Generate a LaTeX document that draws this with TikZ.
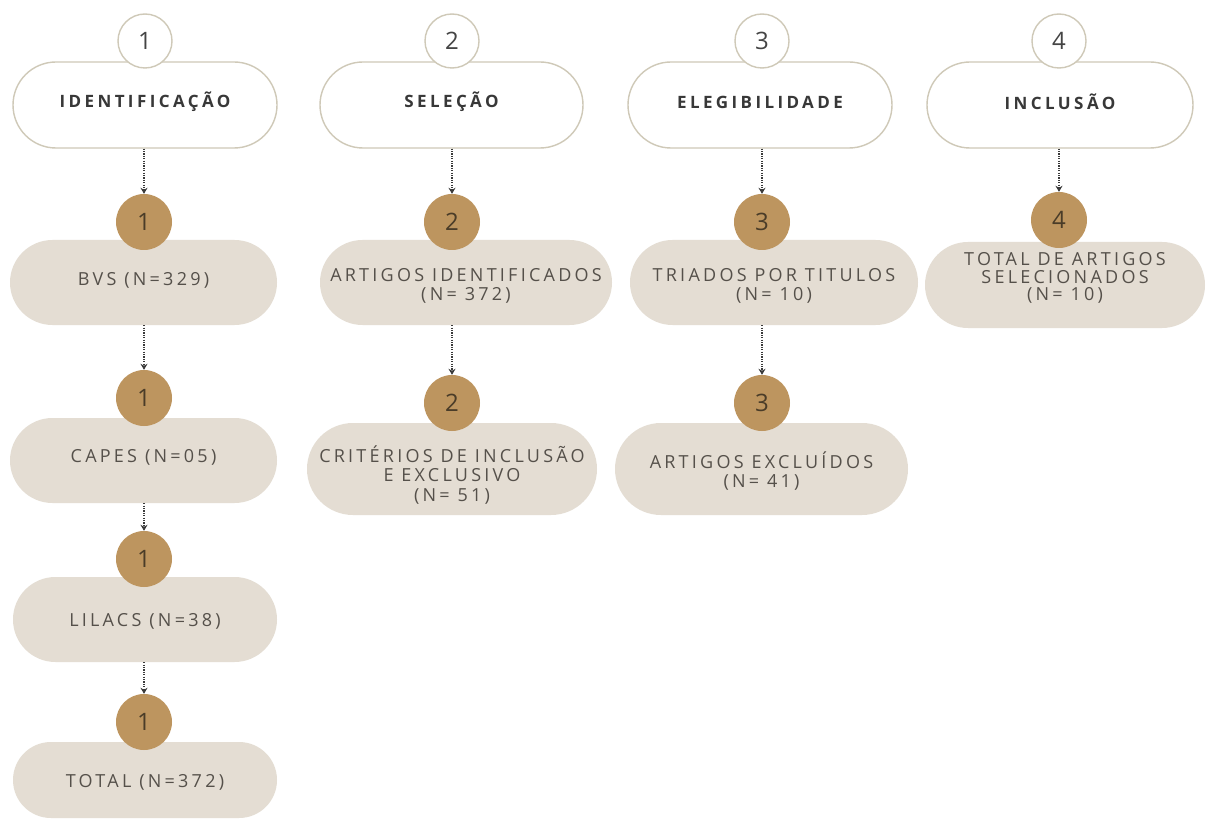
\documentclass[tikz,border=0pt]{standalone}
\usepackage{fontspec}
\usetikzlibrary{shapes.misc,arrows.meta}
\newfontfamily\hdfont[LetterSpace=20]{Open Sans}
\newfontfamily\ctfont[LetterSpace=18]{Open Sans}
\newfontfamily\numfont{Open Sans}
\definecolor{hline}{HTML}{CFC9B8}
\definecolor{pillfill}{HTML}{E4DDD3}
\definecolor{browncirc}{HTML}{BD955F}
\definecolor{browntext}{HTML}{4A3C28}
\definecolor{htextc}{HTML}{383838}
\definecolor{ctextc}{HTML}{55504A}
\definecolor{numdark}{HTML}{444444}
\definecolor{arrc}{HTML}{3A3A3A}
\begin{document}
\begin{tikzpicture}[x=1pt,y=-1pt,
  hpill/.style={rounded rectangle, draw=hline, line width=1.4pt, fill=white, inner sep=0pt},
  hcirc/.style={circle, draw=hline, line width=1.4pt, fill=white, minimum size=54pt, inner sep=0pt,
    font=\numfont\fontsize{24}{24}\selectfont, text=numdark},
  cpill/.style={rounded rectangle, fill=pillfill, inner sep=0pt},
  bcirc/.style={circle, fill=browncirc, minimum size=56pt, inner sep=0pt,
    font=\numfont\fontsize{24}{24}\selectfont, text=browntext},
  htext/.style={font=\hdfont\bfseries\fontsize{17}{20}\selectfont, text=htextc},
  ctext/.style={font=\ctfont\fontsize{18}{19.5}\selectfont, text=ctextc, align=center},
  arr/.style={draw=arrc, line width=1.1pt, dash pattern=on 1.2pt off 1.2pt,
    -{Stealth[length=6pt,width=7pt]}}
]
\useasboundingbox[fill=white] (0,0) rectangle (1219,821);

% header pills
\node[hpill, minimum width=264pt, minimum height=86pt] (h1) at (145,105) {};
\node[hpill, minimum width=263pt, minimum height=86pt] (h2) at (451.5,105) {};
\node[hpill, minimum width=264pt, minimum height=86pt] (h3) at (760,105) {};
\node[hpill, minimum width=266pt, minimum height=86pt] (h4) at (1060,105) {};
\node[htext] (ht1) at (145,102) {IDENTIFICAÇÃO};
\node[htext] (ht2) at (451.5,102) {SELEÇÃO};
\node[htext] (ht3) at (760,102) {ELEGIBILIDADE};
\node[htext] (ht4) at (1060,102) {INCLUSÃO};
\node[hcirc] (n1) at (145,41) {1};
\node[hcirc] (n2) at (452,41) {2};
\node[hcirc] (n3) at (762,41) {3};
\node[hcirc] (n4) at (1059,41) {4};

% content pills
\node[cpill, minimum width=267pt, minimum height=85pt] (c1a) at (143.5,282.5) {};
\node[cpill, minimum width=267pt, minimum height=85pt] (c1b) at (143.5,460.5) {};
\node[cpill, minimum width=264pt, minimum height=85pt] (c1c) at (145,619.5) {};
\node[cpill, minimum width=264pt, minimum height=76pt] (c1d) at (145,780) {};
\node[cpill, minimum width=292pt, minimum height=85pt] (c2a) at (466,282.5) {};
\node[cpill, minimum width=290pt, minimum height=92pt] (c2b) at (452,469) {};
\node[cpill, minimum width=288pt, minimum height=85pt] (c3a) at (774,282.5) {};
\node[cpill, minimum width=293pt, minimum height=92pt] (c3b) at (761.5,469) {};
\node[cpill, minimum width=280pt, minimum height=86pt] (c4a) at (1065,285) {};

\node[ctext] (t1a) at (143.5,280) {BVS (N=329)};
\node[ctext] (t1b) at (143.5,457) {CAPES (N=05)};
\node[ctext] (t1c) at (145,621) {LILACS (N=38)};
\node[ctext] (t1d) at (145,782) {TOTAL (N=372)};
\node[ctext] (t2a) at (466,286) {ARTIGOS IDENTIFICADOS\\(N= 372)};
\node[ctext] (t2b) at (452,475) {CRITÉRIOS DE INCLUSÃO\\E EXCLUSIVO\\(N= 51)};
\node[ctext] (t3a) at (774,286) {TRIADOS POR TITULOS\\(N= 10)};
\node[ctext] (t3b) at (761.5,471) {ARTIGOS EXCLUÍDOS\\(N= 41)};
\node[ctext, font=\ctfont\fontsize{18}{17.5}\selectfont] (t4a) at (1065,278) {TOTAL DE ARTIGOS\\SELECIONADOS\\(N= 10)};

% brown number circles
\node[bcirc] (b1a) at (144,222) {1};
\node[bcirc] (b1b) at (144,398) {1};
\node[bcirc] (b1c) at (144,559) {1};
\node[bcirc] (b1d) at (144,722) {1};
\node[bcirc] (b2a) at (452,222) {2};
\node[bcirc] (b2b) at (452,403) {2};
\node[bcirc] (b3a) at (762,222) {3};
\node[bcirc] (b3b) at (762,403) {3};
\node[bcirc] (b4a) at (1059,220) {4};

% connectors
\draw[arr] (b1a.north |- h1.south) -- (b1a.north);
\draw[arr] (b1b.north |- c1a.south) -- (b1b.north);
\draw[arr] (b1c.north |- c1b.south) -- (b1c.north);
\draw[arr] (b1d.north |- c1c.south) -- (b1d.north);
\draw[arr] (b2a.north |- h2.south) -- (b2a.north);
\draw[arr] (b2b.north |- c2a.south) -- (b2b.north);
\draw[arr] (b3a.north |- h3.south) -- (b3a.north);
\draw[arr] (b3b.north |- c3a.south) -- (b3b.north);
\draw[arr] (b4a.north |- h4.south) -- (b4a.north);
\end{tikzpicture}
\end{document}
